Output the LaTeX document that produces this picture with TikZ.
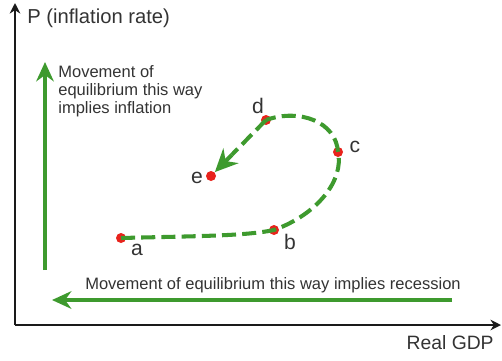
\documentclass[tikz,border=0pt]{standalone}
\usepackage{fontspec}
\setmainfont{Liberation Sans}
\usetikzlibrary{positioning, arrows.meta, calc}
\definecolor{figink}{HTML}{1A1A1A}
\definecolor{figgrn}{HTML}{3E9A2E}
\definecolor{figdot}{HTML}{E8231C}
\definecolor{figtxt}{HTML}{333333}

\begin{document}
\begin{tikzpicture}[
  x=0.02cm, y=0.02cm,
  line cap=butt, line join=round,
  axis/.style = {draw=figink, line width=1.4pt, -{Stealth[length=6pt, width=6pt]}},
  move/.style = {draw=figgrn, line width=2.3pt, -{Stealth[length=11pt, width=10pt]}},
  path/.style = {draw=figgrn, line width=2.3pt, dash pattern=on 8pt off 3.5pt},
  pt/.style   = {circle, fill=figdot, inner sep=0pt, minimum size=0.2cm},
  lbl/.style  = {font=\fontsize{12pt}{14pt}\selectfont, text=figtxt, inner sep=1pt},
  txt/.style  = {font=\fontsize{9.4pt}{10.3pt}\selectfont, text=figtxt, inner sep=0pt, align=left}
]
\useasboundingbox (0,0) rectangle (502,360);

% axes
\coordinate (o) at (15,35);
\coordinate (ytop) at (15,357);
\coordinate (xend) at (501,35);
\draw[axis] (o) -- (ytop);
\draw[axis] (o) -- (xend);
\node[txt, anchor=west, font=\fontsize{11.5pt}{13pt}\selectfont] (ylab) at (27,342) {P (inflation rate)};
\node[txt, anchor=east, font=\fontsize{11pt}{13pt}\selectfont] (xlab) at (494,17) {Real GDP};

% direction arrows
\coordinate (up0) at (45,90);
\coordinate (up1) at (45,298);
\draw[move] (up0) -- (up1);
\node[txt, anchor=north west] (uptxt) at (58,295)
  {Movement of\\equilibrium this way\\implies inflation};

\coordinate (lf0) at (452,60);
\coordinate (lf1) at (52,60);
\draw[move] (lf0) -- (lf1);
\node[txt] (lftxt) at (273,75) {Movement of equilibrium this way implies recession};

% equilibrium points
\node[pt] (a) at (121,122) {};
\node[pt] (b) at (274,130) {};
\node[pt] (c) at (338,208) {};
\node[pt] (d) at (266,240) {};
\node[pt] (e) at (211,184) {};

\node[lbl] at (137,110) {a};
\node[lbl] at (290,118) {b};
\node[lbl] at (355,213) {c};
\node[lbl] at (258,254) {d};
\node[lbl] at (197,182) {e};

% path of equilibrium
\draw[path] (a.center) .. controls (200,124) and (245,124) .. (b.center)
  .. controls (318,146) and (344,180) .. (c.center)
  .. controls (336,238) and (300,252) .. (d.center);
\coordinate (tipstart) at ($(d.center)!0.62!(e.center)$);
\coordinate (tipend) at ($(d.center)!0.93!(e.center)$);
\draw[path] (d.center) -- (tipstart);
\draw[move, -{Stealth[length=13pt, width=12pt]}] (tipstart) -- (tipend);

\end{tikzpicture}
\end{document}
